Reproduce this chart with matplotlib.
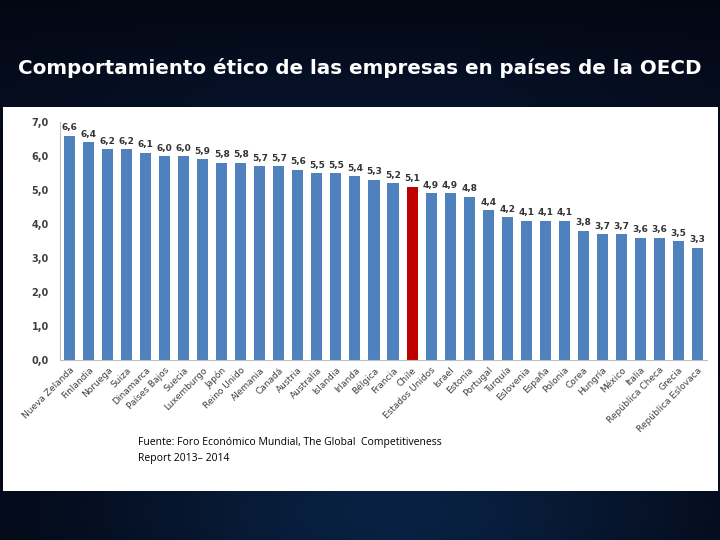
import numpy as np
import matplotlib.pyplot as plt
from matplotlib.patches import Rectangle

countries = ["Nueva Zelanda", "Finlandia", "Noruega", "Suiza", "Dinamarca", "Países Bajos",
             "Suecia", "Luxemburgo", "Japón", "Reino Unido", "Alemania", "Canadá", "Austria",
             "Australia", "Islandia", "Irlanda", "Bélgica", "Francia", "Chile", "Estados Unidos",
             "Israel", "Estonia", "Portugal", "Turquía", "Eslovenia", "España", "Polonia",
             "Corea", "Hungría", "México", "Italia", "República Checa", "Grecia",
             "República Eslovaca"]
values = [6.6, 6.4, 6.2, 6.2, 6.1, 6.0, 6.0, 5.9, 5.8, 5.8, 5.7, 5.7, 5.6, 5.5, 5.5, 5.4,
          5.3, 5.2, 5.1, 4.9, 4.9, 4.8, 4.4, 4.2, 4.1, 4.1, 4.1, 3.8, 3.7, 3.7, 3.6, 3.6,
          3.5, 3.3]
highlight = "Chile"
yticks = [0, 1, 2, 3, 4, 5, 6, 7]

fig = plt.figure(figsize=(7.2, 5.4), dpi=100)

# dark navy background with a faint blue glow
bg = fig.add_axes([0, 0, 1, 1])
yy, xx = np.mgrid[0:1:270j, 0:1:360j]
glow = np.exp(-((xx - 0.55) ** 2) / 0.15 - ((yy - 0.05) ** 2) / 0.04)
glow2 = np.exp(-((xx - 0.5) ** 2) / 0.3 - ((yy - 0.82) ** 2) / 0.01)
base = np.array([0.015, 0.03, 0.08])
img = base + glow[..., None] * np.array([0.02, 0.10, 0.18]) + glow2[..., None] * np.array([0.01, 0.04, 0.08])
bg.imshow(np.clip(img, 0, 1), extent=[0, 1, 0, 1], aspect="auto", origin="lower")
bg.set_xlim(0, 1)
bg.set_ylim(0, 1)
bg.axis("off")

# white panel
bg.add_patch(Rectangle((3 / 720, 1 - 491 / 540), 715 / 720, (491 - 107) / 540,
                       facecolor="white", edgecolor="none"))

fig.text(0.5, 1 - 68 / 540, "Comportamiento ético de las empresas en países de la OECD",
         color="white", fontsize=14.3, fontweight="bold", ha="center", va="center")

ax = fig.add_axes([60 / 720, 1 - 360 / 540, (707 - 60) / 720, (360 - 122) / 540])
ax.set_facecolor("none")
x = np.arange(len(countries))
colors = ["#C00000" if c == highlight else "#4F81BD" for c in countries]
ax.bar(x, values, width=0.58, color=colors)
for xi, v in zip(x, values):
    ax.text(xi, v + 0.1, f"{v:.1f}".replace(".", ","), ha="center", va="bottom",
            fontsize=6.5, fontweight="bold", color="#333333")

ax.set_xlim(-0.5, len(countries) - 0.5)
ax.set_ylim(0, 7)
ax.set_yticks(yticks)
ax.set_yticklabels([f"{t:.1f}".replace(".", ",") for t in yticks], fontsize=7,
                   fontweight="bold", color="#404040")
ax.set_xticks(x)
ax.set_xticklabels(countries, rotation=45, ha="right", rotation_mode="anchor",
                   fontsize=6.5, color="#404040")
ax.tick_params(axis="both", length=0, pad=4)
ax.tick_params(axis="y", pad=8)
for s in ["top", "right"]:
    ax.spines[s].set_visible(False)
ax.spines["left"].set_color("#BFBFBF")
ax.spines["bottom"].set_color("#BFBFBF")

fig.text(138 / 720, 1 - 442 / 540, "Fuente: Foro Económico Mundial, The Global  Competitiveness",
         fontsize=7.5, color="black", ha="left", va="center", family="Open Sans")
fig.text(138 / 720, 1 - 459 / 540, "Report 2013– 2014",
         fontsize=7.5, color="black", ha="left", va="center", family="Open Sans")

fig.savefig("out.png", dpi=100)
